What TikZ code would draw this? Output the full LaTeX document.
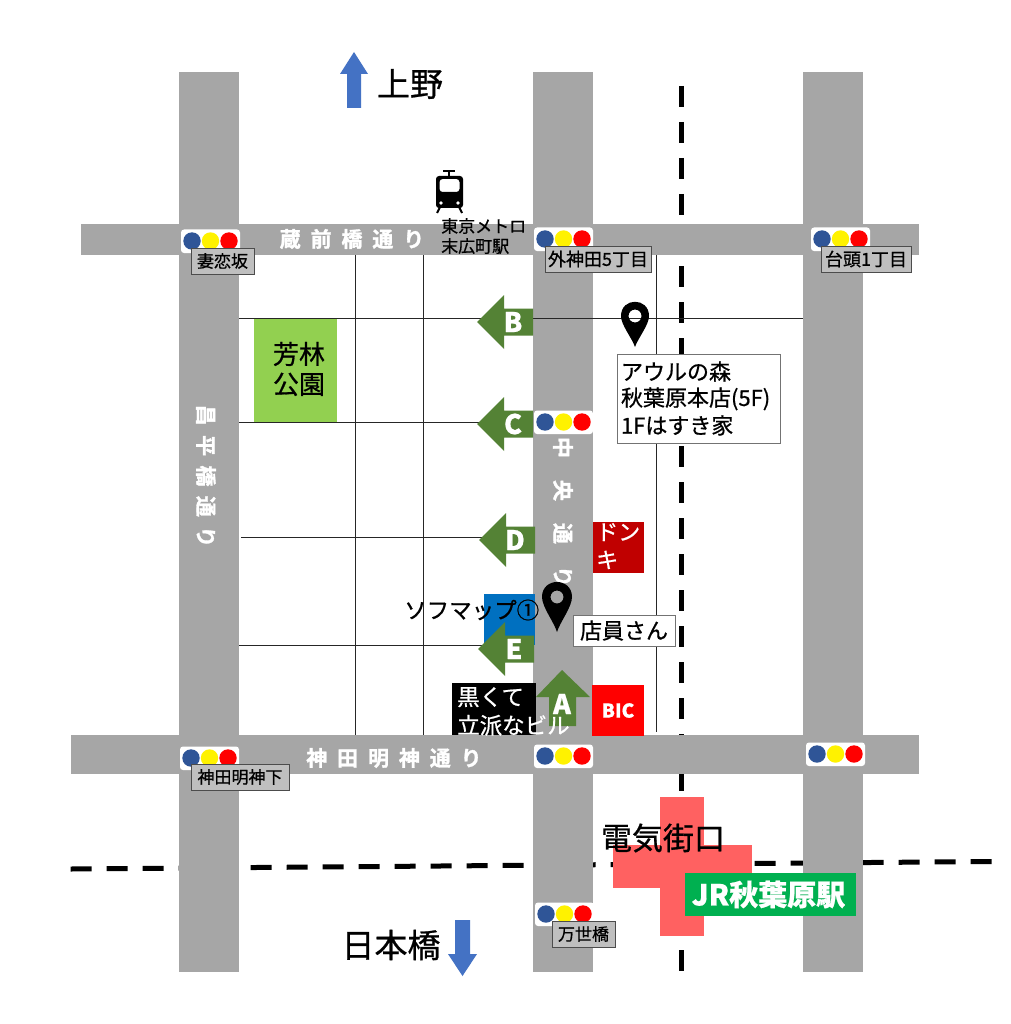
\documentclass[tikz,border=0pt]{standalone}
\usepackage{fontspec}
\setmainfont[FakeBold=0.7]{Noto Sans CJK JP}
\newfontfamily\roadfont[FakeBold=1.5]{Noto Sans CJK JP Bold}
\newcommand{\fs}[1]{\fontsize{#1}{#1}\selectfont}
\newcommand{\spaced}[1]{\addfontfeature{LetterSpace=#1}}
\definecolor{roadgray}{HTML}{A6A6A6}
\definecolor{arrowgreen}{HTML}{548235}
\definecolor{arrowblue}{HTML}{4472C4}
\definecolor{lightblue}{HTML}{2F5597}
\definecolor{crossred}{HTML}{FF6161}
\definecolor{stationgreen}{HTML}{00B050}
\definecolor{parkgreen}{HTML}{92D050}
\definecolor{sofblue}{HTML}{0070C0}
\definecolor{donkired}{HTML}{C00000}
\tikzset{
  road/.style={fill=roadgray,draw=none},
  thinline/.style={line width=1pt,black!85},
  railline/.style={line width=5pt,dash pattern=on 21pt off 15pt},
  signlabel/.style={draw=black!70,fill=black!25,line width=0.8pt,inner sep=0pt,minimum height=26pt},
  whitelabel/.style={draw=black!55,fill=white,line width=0.8pt,inner sep=0pt},
  roadlabel/.style={text=white,font=\roadfont\fs{21},inner sep=0pt},
  arrowletter/.style={text=white,font=\bfseries\fs{27},inner sep=0pt},
  shoptext/.style={text=white,inner sep=0pt,align=left}
}
\begin{document}
\begin{tikzpicture}[x=1pt,y=-1pt]
    \useasboundingbox (0,0) rectangle (1010,1024);
    \fill[white] (0,0) rectangle (1010,1024);

    % draw thin streets
    \draw[thinline] (237,422) -- (533,422);
    \draw[thinline] (241,537.5) -- (533,537.5);
    \draw[thinline] (237,645) -- (533,645);
    \foreach \x/\yb in {355/735,423.5/735,656.5/732}
    \draw[thinline] (\x,255) -- (\x,\yb);

    % draw dashed lines
    \draw[railline] (681,86) -- (681,972);
    \draw[railline] (70.7,869) -- (993,861.5);

    % draw roads
    \foreach \x in {179,533,803}
    \fill[road] (\x,72) rectangle (\x+60,972);
    \fill[road] (81,224) rectangle (919,255);
    \fill[road] (71,735) rectangle (919,774);
    \draw[thinline] (239,318.5) -- (803,318.5);

    % draw station
    \fill[crossred] (660,797) rectangle (704,936);
    \fill[crossred] (613,845) rectangle (752,888);
    \node[inner sep=0pt] (gate) at (663,838) {\fs{31}電気街口};
    \node[fill=stationgreen,text=white,minimum width=171pt,minimum height=43pt,inner sep=0pt,font=\bfseries\fs{29}] (station) at (770.5,894.5) {\hspace{-4pt}JR秋葉原駅};

    % draw road names
    \node[roadlabel] (kuramae) at (352,239) {\spaced{47}蔵前橋通り};
    \node[roadlabel] (myojin) at (394,758) {\spaced{47}神田明神通り};
    \node[roadlabel,rotate=-90] (shohei) at (206,476) {\spaced{45}昌平橋通り};
    \node[roadlabel,rotate=-90] (chuo) at (563,512) {\spaced{105}中央通り};

    % draw shops
    \node[fill=parkgreen,minimum width=83pt,minimum height=103pt,inner sep=0pt] (park) at (295.5,370.5) {};
    \node[inner sep=0pt,align=center,font=\fs{26}] (parkname) at (299,369) {芳林\\[4pt]公園};
    \fill[sofblue] (484,594) rectangle (535,645);
    \fill[donkired] (593,522) rectangle (644,573);
    \node[shoptext,anchor=north west,font=\fs{22}] (donki) at (596,523) {ドン\\[6pt]キ};
    \fill[black] (452,683) rectangle (536,735);
    \node[fill=red,text=white,minimum width=52pt,minimum height=51pt,inner sep=0pt,font=\bfseries\fs{19}] (bic) at (618,710.5) {BIC};

    % draw arrows
    \foreach \x/\y/\t in {533/322/B,533/424/C,535/540/D,534/649/E}{
      \fill[arrowgreen] (\x,\y-13.5) -- (\x-29,\y-13.5) -- (\x-29,\y-27) -- (\x-56,\y) -- (\x-29,\y+27) -- (\x-29,\y+13.5) -- (\x,\y+13.5) -- cycle;
      \node[arrowletter] (arrow\t) at (\x-20,\y) {\t};
    }
    \fill[arrowgreen] (549,726) -- (549,697) -- (536,697) -- (562,670) -- (590,697) -- (576,697) -- (576,726) -- cycle;
    \node[arrowletter] (arrowA) at (562,704) {A};
    \node[shoptext,anchor=north west,font=\fs{22.5}] (black) at (457,687) {黒くて\\[6pt]立派なビル};
    \node[inner sep=0pt,anchor=west,font=\fs{22.5}] (sofmap) at (404,610) {ソフマップ①};

    % draw traffic lights
    \foreach \x/\y in {192/241,545/239,822/239,545/422,191/758,545/756,817/754,546/914}{
      \fill[white,rounded corners=3pt] (\x-11,\y-11.5) rectangle (\x+48,\y+12);
      \fill[lightblue] (\x,\y) circle[radius=8.7];
      \fill[yellow] (\x+18.5,\y) circle[radius=8.7];
      \fill[red] (\x+37,\y) circle[radius=8.7];
    }

    % draw crossing names
    \node[signlabel,minimum width=63pt,font=\fs{17}] (tsumakoi) at (222.5,261) {妻恋坂};
    \node[signlabel,minimum width=106pt,font=\fs{18}] (sotokanda) at (598,259) {外神田5丁目};
    \node[signlabel,minimum width=90pt,font=\fs{18}] (taito) at (866,259) {台頭1丁目};
    \node[signlabel,minimum width=98pt,font=\fs{17}] (myojinshita) at (240,777) {神田明神下};
    \node[signlabel,minimum width=63pt,font=\fs{17}] (mansei) at (583.5,934) {万世橋};

    % draw pins
    \fill[black,even odd rule] (621,316) .. controls (621,297) and (649,297) .. (649,316) .. controls (649,325) and (638,338) .. (635,347) .. controls (632,338) and (621,325) .. (621,316) -- cycle (635,316) circle[radius=6.5];
    \fill[black,even odd rule] (542,597) .. controls (542,577) and (572,577) .. (572,597) .. controls (572,607) and (560,622) .. (557,632) .. controls (554,622) and (542,607) .. (542,597) -- cycle (557,597) circle[radius=6.5];

    % draw text boxes
    \node[whitelabel,minimum width=163pt,minimum height=89pt,text width=155pt,align=left,font=\fs{22}] (owl) at (698.5,398.5) {アウルの森\\[4pt]秋葉原本店(5F)\\[4pt]1Fはすき家};
    \node[whitelabel,minimum width=102pt,minimum height=31pt,font=\fs{22}] (clerk) at (624,630.5) {店員さん};

    % draw subway icon
    \draw[line width=2pt] (443,171) -- (455,171) (449,171) -- (449,177);
    \draw[line width=2pt] (440,207) -- (437,213) (459,207) -- (462,213);
    \fill[black,even odd rule,rounded corners=3pt] (436,176) rectangle (463,208) (439.5,179) rectangle (459.5,192);
    \fill[white] (441,203) circle[radius=1.8] (458,203) circle[radius=1.8];
    \node[inner sep=0pt,align=left,anchor=north west,font=\fs{17}] (metro) at (441,218) {東京メトロ\\[3pt]末広町駅};

    % draw direction arrows
    \fill[arrowblue] (347,108) -- (347,74) -- (340,74) -- (354,52) -- (368,74) -- (361,74) -- (361,108) -- cycle;
    \node[inner sep=0pt,font=\fs{33}] (ueno) at (410,84) {上野};
    \fill[arrowblue] (455,920) -- (455,954) -- (448,954) -- (462.5,976) -- (477,954) -- (470,954) -- (470,920) -- cycle;
    \node[inner sep=0pt,font=\fs{33}] (nihonbashi) at (391,945) {日本橋};
\end{tikzpicture}
\end{document}
